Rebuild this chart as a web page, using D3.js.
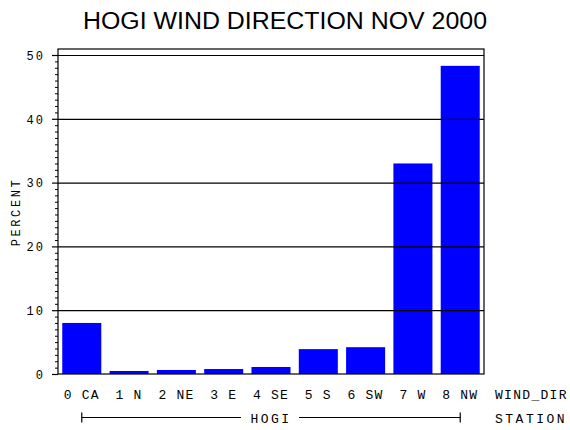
<!DOCTYPE html>
<html>
<head>
<meta charset="utf-8">
<script src="https://cdn.jsdelivr.net/npm/d3@7"></script>
<style>
  body { margin: 0; background: #fff; }
  text { font-family: "Liberation Mono", "DejaVu Sans Mono", monospace; fill: #000; }
</style>
</head>
<body>
<div id="chart"></div>
<script>
// values
const directions = ["0 CA", "1 N", "2 NE", "3 E", "4 SE", "5 S", "6 SW", "7 W", "8 NW"];
const percent = [8.0, 0.47, 0.63, 0.78, 1.1, 3.9, 4.2, 33.0, 48.3];
const yTicks = [0, 10, 20, 30, 40, 50];
const stationName = "HOGI";

const W = 570, H = 430;
const margin = { top: 49, right: 86, bottom: 56, left: 58 };

const svg = d3.select("#chart")
    .append("svg")
    .attr("width", W)
    .attr("height", H);

const x = d3.scaleBand()
    .domain(directions)
    .range([margin.left, W - margin.right])
    .paddingInner(0.175)
    .paddingOuter(0.09);

const y = d3.scaleLinear()
    .domain([0, 50.94])
    .range([H - margin.bottom, margin.top]);

// title
svg.append("text")
    .attr("x", 285)
    .attr("y", 29)
    .attr("text-anchor", "middle")
    .style("font-family", "'Liberation Sans', Arial, sans-serif")
    .style("font-size", "23px")
    .attr("textLength", 404)
    .attr("lengthAdjust", "spacingAndGlyphs")
    .text("HOGI WIND DIRECTION NOV 2000");

// bars
svg.selectAll("rect.bar")
    .data(percent)
    .join("rect")
    .attr("class", "bar")
    .attr("x", (d, i) => x(directions[i]))
    .attr("width", x.bandwidth())
    .attr("y", d => y(d))
    .attr("height", d => y(0) - y(d))
    .attr("fill", "#0000ff");

// grid lines drawn over the bars
const grid = svg.append("g")
    .attr("transform", `translate(${margin.left},0)`)
    .call(d3.axisLeft(y).tickValues(yTicks.slice(1)).tickSize(-(W - margin.right - margin.left)).tickFormat(""));
grid.select(".domain").remove();
grid.selectAll("line").attr("stroke", "#000").attr("stroke-width", 1.2);

// frame
svg.append("rect")
    .attr("x", margin.left)
    .attr("y", margin.top)
    .attr("width", W - margin.right - margin.left)
    .attr("height", H - margin.bottom - margin.top)
    .attr("fill", "none")
    .attr("stroke", "#000")
    .attr("stroke-width", 1.2);

// minor ticks
const minor = svg.append("g")
    .attr("transform", `translate(${margin.left},0)`)
    .call(d3.axisLeft(y).tickValues(d3.range(0, 51).filter(v => v % 10 !== 0)).tickSize(3).tickFormat(""));
minor.select(".domain").remove();
minor.selectAll("line").attr("stroke", "#000");

// major ticks + labels
const yAxis = svg.append("g")
    .attr("transform", `translate(${margin.left},0)`)
    .call(d3.axisLeft(y).tickValues(yTicks).tickSize(6).tickPadding(7));
yAxis.select(".domain").remove();
yAxis.selectAll("line").attr("stroke", "#000").attr("stroke-width", 1.2);
yAxis.selectAll("text")
    .style("font-size", "12px")
    .style("letter-spacing", "2px")
    .attr("dy", "0.36em");

// y title
svg.append("text")
    .attr("transform", "translate(20,212) rotate(-90)")
    .attr("text-anchor", "middle")
    .style("font-size", "12px")
    .style("letter-spacing", "2.6px")
    .text("PERCENT");

// category labels
const xAxis = svg.append("g")
    .attr("transform", `translate(0,${H - margin.bottom})`)
    .call(d3.axisBottom(x).tickSize(0).tickPadding(16));
xAxis.select(".domain").remove();
xAxis.selectAll("text")
    .style("font-size", "13px")
    .style("letter-spacing", "1.2px");

svg.append("text")
    .attr("x", 495)
    .attr("y", 399)
    .style("font-size", "13px")
    .style("letter-spacing", "1.3px")
    .text("WIND_DIR");

svg.append("text")
    .attr("x", 495)
    .attr("y", 423)
    .style("font-size", "13px")
    .style("letter-spacing", "2.5px")
    .text("STATION");

// station bracket
const bx0 = x(directions[0]) + x.bandwidth() / 2;
const bx1 = x(directions[directions.length - 1]) + x.bandwidth() / 2;
const by = 417.5;
const mid = (bx0 + bx1) / 2;
const bracket = svg.append("g").attr("stroke", "#000").attr("stroke-width", 1.2);
bracket.append("line").attr("x1", bx0).attr("x2", mid - 30).attr("y1", by).attr("y2", by);
bracket.append("line").attr("x1", mid + 28).attr("x2", bx1).attr("y1", by).attr("y2", by);
bracket.append("line").attr("x1", bx0).attr("x2", bx0).attr("y1", by - 5).attr("y2", by + 5);
bracket.append("line").attr("x1", bx1).attr("x2", bx1).attr("y1", by - 5).attr("y2", by + 5);
svg.append("text")
    .attr("x", mid)
    .attr("y", 423)
    .attr("text-anchor", "middle")
    .style("font-size", "13px")
    .style("letter-spacing", "2.5px")
    .text(stationName);
</script>
</body>
</html>
